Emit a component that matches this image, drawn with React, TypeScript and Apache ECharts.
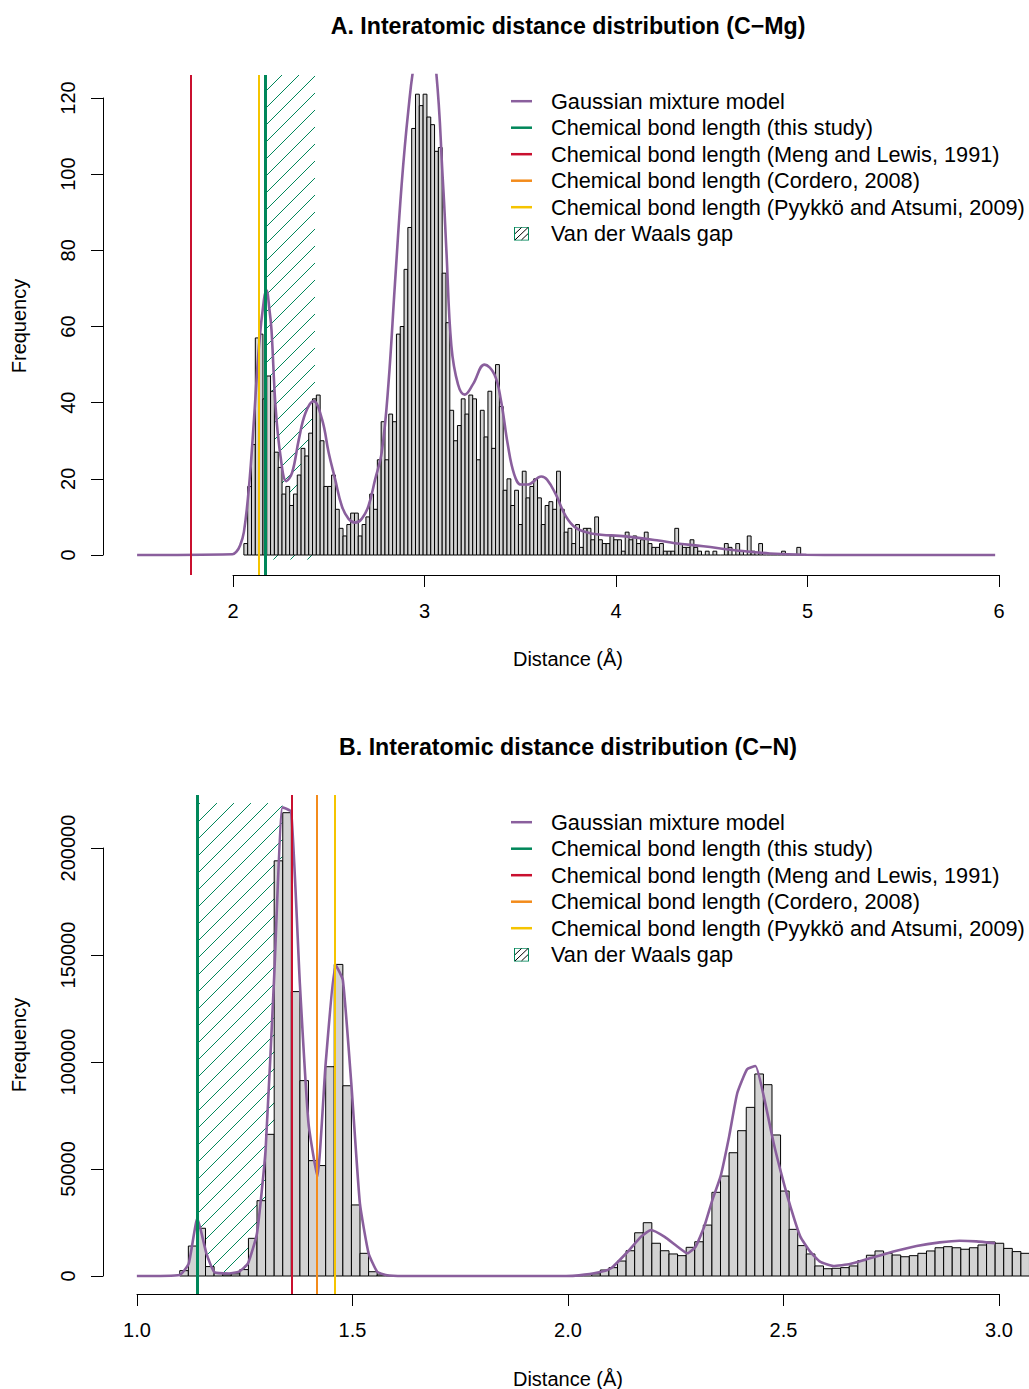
import React, { useEffect, useRef } from "react";
import * as echarts from "echarts";

const FONT = "'Liberation Sans', Arial, Helvetica, sans-serif";

// ---------- Panel A: C–Mg ----------
const binWidth = 0.02;
const histAStart = 2.06;
const histACounts = [
  3, 18, 29, 57, 58, 41, 47, 43, 27, 23, 16, 18, 13, 16, 21, 28, 26, 32, 41, 42,
  30, 18, 18, 21, 12, 7, 5, 8, 11, 11, 5, 8, 10, 16, 12, 25, 35, 25, 37, 35,
  58, 60, 75, 86, 112, 121, 118, 121, 115, 113, 106, 107, 74, 61, 38, 30, 34, 41, 37, 42,
  41, 25, 38, 31, 43, 28, 50, 39, 17, 20, 13, 17, 8, 22, 15, 18, 20, 15, 8, 13,
  14, 12, 22, 12, 6, 7, 3, 8, 2, 7, 7, 4, 10, 4, 3, 3, 5, 4, 4, 1,
  6, 4, 5, 3, 4, 6, 3, 2, 2, 3, 1, 1, 1, 7, 3, 2, 2, 4, 2, 1,
  0, 1, 0, 1, 0, 0, 3, 2, 0, 3, 1, 0, 5, 1, 0, 3, 0, 0, 0, 0,
  0, 1, 0, 0, 0, 2, 0,
];
const gmmAX = [
  1.5, 2.0, 2.02, 2.04, 2.06, 2.087, 2.113, 2.139, 2.165, 2.178, 2.195, 2.205, 2.226, 2.252, 2.283,
  2.313, 2.348, 2.383, 2.426, 2.47, 2.505, 2.539, 2.574, 2.609, 2.644, 2.678, 2.713, 2.748, 2.783,
  2.818, 2.852, 2.887, 2.922, 2.96, 3.01, 3.06, 3.105, 3.122, 3.148, 3.183, 3.218, 3.261, 3.322,
  3.374, 3.409, 3.444, 3.478, 3.513, 3.548, 3.62, 3.65, 3.696, 3.748, 3.801, 3.888, 4.062, 4.235,
  4.32, 4.47, 4.645, 4.818, 5.01, 5.2, 6.0,
];
const gmmAY = [
  0, 0.2, 0.8, 2.5, 6, 18, 35.6, 54.8, 67, 69.5, 64, 59, 39, 26, 19.4,
  21.6, 30.3, 37.3, 40.4, 35.6, 26.8, 19.8, 12.8, 9.5, 8.5, 9.5, 12.8, 19.8, 27,
  44.8, 71, 97, 116.5, 131, 139, 131, 97, 80, 55, 44.8, 42.1, 44.8, 50,
  47.4, 40.4, 29, 21.1, 18.5, 18.5, 20.6, 19.8, 15.9, 10.2, 7.1, 5.6, 4.9, 3.8,
  3.1, 2.3, 1.2, 0.4, 0.05, 0, 0,
];
const bondA = [2.172, 1.781, 2.172, 2.141]; // this study, Meng & Lewis, Cordero, Pyykkö
const gapAX = [2.172, 2.433];
const gapAY = [-1.2, 140];
const xTicksA = [2, 3, 4, 5, 6];
const yTicksA = [0, 20, 40, 60, 80, 100, 120];

// ---------- Panel B: C–N ----------
const histBStart = 1.1;
const histBCounts = [
  2500, 14000, 22300, 4400, 1200, 500, 1000, 3000, 17600, 35200, 66200, 194000, 216500, 132900,
  91300, 53900, 51600, 97800, 145600, 88900, 33200, 10600, 2000, 500,
  0, 0, 0, 0, 0, 0, 0, 0, 0, 0, 0, 0, 0, 0, 0, 0, 0, 0, 0, 0, 0, 0, 0, 0,
  1000, 2800, 3900, 7000, 11800, 20200, 24900, 15300, 11800, 10300, 9500, 13400, 16000, 23800,
  39100, 46700, 57600, 67900, 78800, 94400, 89400, 65900, 39700, 21800, 14200, 10300, 4700, 3400,
  3600, 3900, 4700, 7200, 9700, 11700, 10600, 9800, 9000, 9500, 10600, 11700, 13200, 13700,
  13200, 12500, 13200, 14500, 15900, 15300, 12900, 11400, 10600,
];
const gmmBX = [
  1.0, 1.1, 1.121, 1.141, 1.162, 1.181, 1.215, 1.238, 1.259, 1.28, 1.3, 1.32, 1.3395, 1.3596,
  1.3798, 1.4, 1.4207, 1.44, 1.4633, 1.48, 1.4997, 1.5197, 1.54, 1.56, 1.58, 1.62, 2.0, 2.03,
  2.074, 2.105, 2.144, 2.175, 2.198, 2.229, 2.26, 2.283, 2.302, 2.322, 2.341, 2.36, 2.38, 2.399,
  2.422, 2.4416, 2.461, 2.484, 2.5035, 2.523, 2.546, 2.569, 2.592, 2.623, 2.662, 2.708, 2.763,
  2.817, 2.871, 2.917, 2.956, 3.0,
];
const gmmBY = [
  0, 500, 5900, 27000, 10600, 1700, 1200, 2000, 5900, 20000, 58900, 139900, 219000, 217000,
  136800, 71300, 46400, 99400, 145300, 138300, 90000, 34000, 10600, 2000, 500, 0, 0, 300,
  1600, 3600, 11400, 18400, 21500, 18400, 13700, 10600, 13700, 23000, 35500, 46400, 65100, 85400,
  96600, 98100, 83800, 62000, 46400, 32400, 18400, 11400, 6700, 4700, 5600, 8300, 11400,
  14000, 15700, 16500, 16200, 15300,
];
const bondB = [1.142, 1.36, 1.42, 1.46];
const gapBX = [1.142, 1.339];
const gapBY = [0, 221000];
const xTicksB = [1.0, 1.5, 2.0, 2.5, 3.0];
const yTicksB = [0, 50000, 100000, 150000, 200000];

// ---------- labels & colours ----------
const titleA = "A. Interatomic distance distribution (C\u2212Mg)";
const titleB = "B. Interatomic distance distribution (C\u2212N)";
const xName = "Distance (\u00c5)";
const yName = "Frequency";
const gmmName = "Gaussian mixture model";
const bondNames = [
  "Chemical bond length (this study)",
  "Chemical bond length (Meng and Lewis, 1991)",
  "Chemical bond length (Cordero, 2008)",
  "Chemical bond length (Pyykk\u00f6 and Atsumi, 2009)",
];
const gapName = "Van der Waals gap";

const PURPLE = "#8A5F9D";
const bondColors = ["#00875A", "#C9102F", "#F38B1B", "#F5C400"];
const bondWidths = [3, 2, 2, 2];
const BAR_FILL = "#D3D3D3";

function svgIcon(inner: string) {
  const svg = `<svg xmlns='http://www.w3.org/2000/svg' width='21' height='14' viewBox='0 0 21 14'>${inner}</svg>`;
  return "image://data:image/svg+xml;charset=utf-8," + encodeURIComponent(svg);
}
const lineIcon = (c: string) => svgIcon(`<rect x='0' y='5.75' width='21' height='2.5' fill='${c}'/>`);
const hatchIcon = svgIcon(
  `<rect x='3.5' y='0.5' width='14' height='13' fill='white' stroke='${bondColors[0]}' stroke-width='1'/>` +
    `<line x1='4' y1='7' x2='10.5' y2='0.8' stroke='black' stroke-width='1'/>` +
    `<line x1='4' y1='13.2' x2='17' y2='0.8' stroke='black' stroke-width='1'/>` +
    `<line x1='10.5' y1='13.2' x2='17' y2='7' stroke='black' stroke-width='1'/>`
);

function histRender(params: any, api: any) {
  const x0 = api.value(0);
  const x1 = api.value(1);
  const v = api.value(2);
  const p0 = api.coord([x0, v]);
  const p1 = api.coord([x1, 0]);
  if (v <= 0) {
    return {
      type: "line",
      shape: { x1: p0[0], y1: p1[1], x2: p1[0], y2: p1[1] },
      style: { stroke: "#000", lineWidth: 1 },
    };
  }
  return {
    type: "rect",
    shape: { x: p0[0], y: p0[1], width: p1[0] - p0[0], height: p1[1] - p0[1] },
    style: { fill: BAR_FILL, stroke: "#000", lineWidth: 1 },
  };
}

function hatchRender(params: any, api: any) {
  const tl = api.coord([api.value(0), api.value(3)]);
  const br = api.coord([api.value(1), api.value(2)]);
  const cs = params.coordSys;
  const L = Math.max(tl[0], cs.x);
  const R = Math.min(br[0], cs.x + cs.width);
  const T = Math.max(tl[1], cs.y);
  const B = Math.min(br[1], cs.y + cs.height);
  const step = 17;
  const children: any[] = [];
  const cStart = Math.ceil((L + T) / step) * step;
  for (let c = cStart; c <= R + B; c += step) {
    const xa = Math.max(L, c - B);
    const xb = Math.min(R, c - T);
    if (xb - xa < 0.5) continue;
    children.push({
      type: "line",
      shape: { x1: xa, y1: c - xa, x2: xb, y2: c - xb },
      style: { stroke: bondColors[0], lineWidth: 1 },
    });
  }
  return { type: "group", children };
}

function buildBins(start: number, counts: number[]) {
  return counts.map((c, i) => {
    const x0 = +(start + i * binWidth).toFixed(4);
    return [x0, +(x0 + binWidth).toFixed(4), c];
  });
}

const axisLabelStyle = { color: "#000", fontSize: 20, fontFamily: FONT };

function panel(opts: {
  gi: number;
  hist: number[][];
  gmmX: number[];
  gmmY: number[];
  bonds: number[];
  gapX: number[];
  gapY: number[];
  smooth: number;
}) {
  const { gi, hist, gmmX, gmmY, bonds, gapX, gapY, smooth } = opts;
  const series: any[] = [];
  series.push({
    type: "custom",
    name: gapName,
    xAxisIndex: gi,
    yAxisIndex: gi,
    renderItem: hatchRender,
    data: [[gapX[0], gapX[1], gapY[0], gapY[1]]],
    encode: { x: [0, 1], y: [2, 3] },
    z: 1,
    silent: true,
  });
  series.push({
    type: "custom",
    name: "histogram" + gi,
    xAxisIndex: gi,
    yAxisIndex: gi,
    renderItem: histRender,
    data: hist,
    encode: { x: [0, 1], y: 2 },
    z: 2,
    silent: true,
  });
  const order = [2, 1, 3, 0];
  order.forEach((k) => {
    series.push({
      type: "line",
      name: bondNames[k],
      xAxisIndex: gi,
      yAxisIndex: gi,
      data: [],
      z: 3 + order.indexOf(k) * 0.01,
      silent: true,
      markLine: {
        silent: true,
        symbol: ["none", "none"],
        label: { show: false },
        lineStyle: { color: bondColors[k], width: bondWidths[k], type: "solid" },
        data: [{ xAxis: bonds[k] }],
        animation: false,
      },
    });
  });
  series.push({
    type: "line",
    name: gmmName,
    xAxisIndex: gi,
    yAxisIndex: gi,
    data: gmmX.map((x, i) => [x, gmmY[i]]),
    showSymbol: false,
    symbol: "none",
    smooth,
    clip: true,
    lineStyle: { color: PURPLE, width: 2.6 },
    itemStyle: { color: PURPLE },
    z: 4,
    silent: true,
  });
  return series;
}

export default function App() {
  const ref = useRef<HTMLDivElement>(null);
  useEffect(() => {
    if (!ref.current) return;
    const chart = echarts.init(ref.current, undefined, { renderer: "svg" });

    const aAxisL = 233, aAxisW = 766, aAxisT = 98, aAxisH = 457;
    const aDataL = 103, aDataT = 75, aDataW = 930, aDataH = 500;
    const aPxX = aAxisW / (xTicksA[xTicksA.length - 1] - xTicksA[0]);
    const aPxY = aAxisH / (yTicksA[yTicksA.length - 1] - yTicksA[0]);
    const bAxisL = 137, bAxisW = 862, bAxisT = 848, bAxisH = 428;
    const bDataL = 103, bDataT = 795, bDataW = 930, bDataH = 499;
    const bPxX = bAxisW / (xTicksB[xTicksB.length - 1] - xTicksB[0]);
    const bPxY = bAxisH / (yTicksB[yTicksB.length - 1] - yTicksB[0]);

    const dataX = (l: number, w: number, axisL: number, px: number, t0: number) => ({
      min: t0 - (axisL - l) / px,
      max: t0 + (l + w - axisL) / px,
    });
    const dataY = (t: number, h: number, axisT: number, axisH: number, px: number, t0: number) => ({
      min: t0 - (t + h - (axisT + axisH)) / px,
      max: t0 + (axisT + axisH - t) / px,
    });

    const aX = dataX(aDataL, aDataW, aAxisL, aPxX, xTicksA[0]);
    const aY = dataY(aDataT, aDataH, aAxisT, aAxisH, aPxY, yTicksA[0]);
    const bX = dataX(bDataL, bDataW, bAxisL, bPxX, xTicksB[0]);
    const bY = dataY(bDataT, bDataH, bAxisT, bAxisH, bPxY, yTicksB[0]);

    const hiddenAxis = (gi: number, r: { min: number; max: number }) => ({
      type: "value",
      gridIndex: gi,
      min: r.min,
      max: r.max,
      show: false,
      splitLine: { show: false },
    });

    const visX = (gi: number, ticks: number[], offset: number, fmt: (v: number) => string) => ({
      type: "value",
      gridIndex: gi,
      min: ticks[0],
      max: ticks[ticks.length - 1],
      interval: ticks[1] - ticks[0],
      offset,
      axisLine: { show: true, onZero: false, lineStyle: { color: "#000", width: 1 } },
      axisTick: { show: true, length: 12, lineStyle: { color: "#000", width: 1 } },
      axisLabel: { ...axisLabelStyle, margin: 26, formatter: fmt, showMinLabel: true, showMaxLabel: true },
      splitLine: { show: false },
    });
    const visY = (gi: number, ticks: number[], offset: number) => ({
      type: "value",
      gridIndex: gi,
      min: ticks[0],
      max: ticks[ticks.length - 1],
      interval: ticks[1] - ticks[0],
      offset,
      axisLine: { show: true, onZero: false, lineStyle: { color: "#000", width: 1 } },
      axisTick: { show: true, length: 12, lineStyle: { color: "#000", width: 1 } },
      axisLabel: { ...axisLabelStyle, margin: 25, rotate: 90, formatter: (v: number) => String(v), showMinLabel: true, showMaxLabel: true },
      splitLine: { show: false },
    });

    const legendData = [
      { name: gmmName, icon: lineIcon(PURPLE) },
      ...bondNames.map((n, k) => ({ name: n, icon: lineIcon(bondColors[k]) })),
      { name: gapName, icon: hatchIcon },
    ];
    const legendBase = {
      orient: "vertical",
      left: 511,
      padding: 0,
      itemWidth: 21,
      itemHeight: 14,
      itemGap: 4.5,
      selectedMode: false,
      textStyle: { color: "#000", fontSize: 21.7, fontFamily: FONT, lineHeight: 21.7, padding: [0, 0, 0, 14] },
      data: legendData,
    };

    const text = (t: string, x: number, y: number, size: number, bold = false, rot = 0) => ({
      type: "text",
      x,
      y,
      rotation: rot,
      silent: true,
      style: {
        text: t,
        fill: "#000",
        font: `${bold ? "bold " : ""}${size}px ${FONT}`,
        textAlign: "center",
        textVerticalAlign: "middle",
      },
    });

    const option: any = {
      animation: false,
      backgroundColor: "#fff",
      grid: [
        { left: aDataL, top: aDataT, width: aDataW, height: aDataH, show: false },
        { left: aAxisL, top: aAxisT, width: aAxisW, height: aAxisH, show: false },
        { left: bDataL, top: bDataT, width: bDataW, height: bDataH, show: false },
        { left: bAxisL, top: bAxisT, width: bAxisW, height: bAxisH, show: false },
      ],
      xAxis: [
        hiddenAxis(0, aX),
        visX(1, xTicksA, 20, (v) => String(v)),
        hiddenAxis(2, bX),
        visX(3, xTicksB, 18, (v) => v.toFixed(1)),
      ],
      yAxis: [
        hiddenAxis(0, aY),
        visY(1, yTicksA, 130),
        hiddenAxis(2, bY),
        visY(3, yTicksB, 34),
      ],
      legend: [
        { ...legendBase, top: 90.2 },
        { ...legendBase, top: 811.2 },
      ],
      series: [
        ...panel({ gi: 0, hist: buildBins(histAStart, histACounts), gmmX: gmmAX, gmmY: gmmAY, bonds: bondA, gapX: gapAX, gapY: gapAY, smooth: 0.4 }),
        ...panel({ gi: 2, hist: buildBins(histBStart, histBCounts), gmmX: gmmBX, gmmY: gmmBY, bonds: bondB, gapX: gapBX, gapY: gapBY, smooth: 0.15 }),
      ],
      graphic: [
        text(titleA, 568, 26, 23.2, true),
        text(titleB, 568, 747, 23.2, true),
        text(xName, 568, 659, 20),
        text(xName, 568, 1379, 20),
        text(yName, 19, 326, 20, false, Math.PI / 2),
        text(yName, 19, 1045, 20, false, Math.PI / 2),
      ],
    };
    chart.setOption(option);
    return () => chart.dispose();
  }, []);
  return (
    <div
      ref={ref}
      style={{ position: "absolute", left: 0, top: 0, width: 1029, height: 1389, background: "#fff" }}
    />
  );
}
